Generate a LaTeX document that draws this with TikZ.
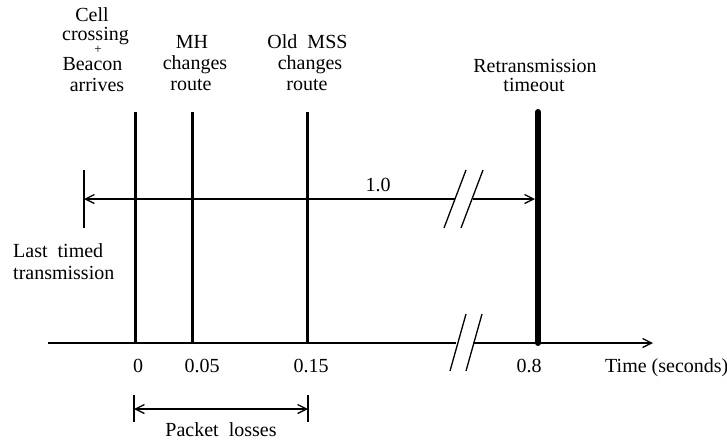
\documentclass[tikz,border=0pt]{standalone}
\usepackage{fontspec}
\setmainfont{Liberation Serif}
\usetikzlibrary{arrows.meta}
\begin{document}
\begin{tikzpicture}[x=1pt,y=-1pt,
  lbl/.style={inner sep=0pt, anchor=base, font=\fontsize{20}{22}\selectfont},
  lblw/.style={lbl, anchor=base west},
  smalllbl/.style={inner sep=0pt, anchor=base, font=\fontsize{13}{14}\selectfont},
  thinline/.style={line width=1.3pt},
  eventline/.style={line width=3pt},
  bigevent/.style={line width=6pt, line cap=round},
  barb/.tip={Straight Barb[length=9pt,width=9pt,line width=1.3pt]},
]
\useasboundingbox (0,0) rectangle (727,440);

% time axis with break
\coordinate (a0) at (48,343);
\coordinate (a1) at (456,343);
\coordinate (a2) at (473,343);
\coordinate (a3) at (653,343);
\draw[thinline] (a0) -- (a1);
\draw[thinline, -barb] (a2) -- (a3);
\coordinate (s1a) at (450,371); \coordinate (s1b) at (466,314);
\coordinate (s2a) at (466,371); \coordinate (s2b) at (482,314);
\draw[thinline] (s1a) -- (s1b);
\draw[thinline] (s2a) -- (s2b);

% event lines
\coordinate (e0t) at (135,112); \coordinate (e0b) at (135,344);
\coordinate (e1t) at (192,112); \coordinate (e1b) at (192,344);
\coordinate (e2t) at (307,112); \coordinate (e2b) at (307,344);
\coordinate (e3t) at (538,112); \coordinate (e3b) at (538,343);
\draw[eventline] (e0t) -- (e0b);
\draw[eventline] (e1t) -- (e1b);
\draw[eventline] (e2t) -- (e2b);
\draw[bigevent] (e3t) -- (e3b);

% upper 1.0 arrow with break
\coordinate (lt) at (84,170); \coordinate (lb) at (84,228);
\draw[thinline] (lt) -- (lb);
\coordinate (u0) at (84,199); \coordinate (u1) at (455,199);
\coordinate (u2) at (473,199); \coordinate (u3) at (535,199);
\draw[thinline, barb-] (u0) -- (u1);
\draw[thinline, -barb] (u2) -- (u3);
\coordinate (t1a) at (444,228); \coordinate (t1b) at (466,170);
\coordinate (t2a) at (461,228); \coordinate (t2b) at (483,170);
\draw[thinline] (t1a) -- (t1b);
\draw[thinline] (t2a) -- (t2b);

% packet losses arrow
\coordinate (p0t) at (134,395); \coordinate (p0b) at (134,422);
\coordinate (p1t) at (308,395); \coordinate (p1b) at (308,422);
\draw[thinline] (p0t) -- (p0b);
\draw[thinline] (p1t) -- (p1b);
\coordinate (pa) at (134,409); \coordinate (pb) at (308,409);
\draw[thinline, barb-barb] (pa) -- (pb);

% top labels
\node[lbl] (cell1) at (92,21) {Cell};
\node[lbl] (cell2) at (95.5,40) {crossing};
\node[smalllbl] (cellp) at (98,53.5) {+};
\node[lbl] (cell3) at (92.5,70) {Beacon};
\node[lbl] (cell4) at (97,91) {arrives};

\node[lbl] (mh1) at (192,48) {MH};
\node[lbl] (mh2) at (195,69) {changes};
\node[lbl] (mh3) at (191,90) {route};

\node[lbl] (old1) at (307.5,48) {Old\ \ MSS};
\node[lbl] (old2) at (310,69) {changes};
\node[lbl] (old3) at (307,90) {route};

\node[lbl] (ret1) at (535,72) {Retransmission};
\node[lbl] (ret2) at (534,91) {timeout};

\node[lbl] (one) at (378,191) {1.0};

\node[lblw] (last1) at (13,257) {Last\ \ timed};
\node[lblw] (last2) at (13,279) {transmission};

% axis labels
\node[lbl] (l0) at (138,372) {0};
\node[lbl] (l1) at (202,372) {0.05};
\node[lbl] (l2) at (311,372) {0.15};
\node[lbl] (l3) at (529,372) {0.8};
\node[lblw] (time) at (605,372) {Time (seconds)};

\node[lbl] (pl) at (221,436) {Packet\ \ losses};
\end{tikzpicture}
\end{document}
